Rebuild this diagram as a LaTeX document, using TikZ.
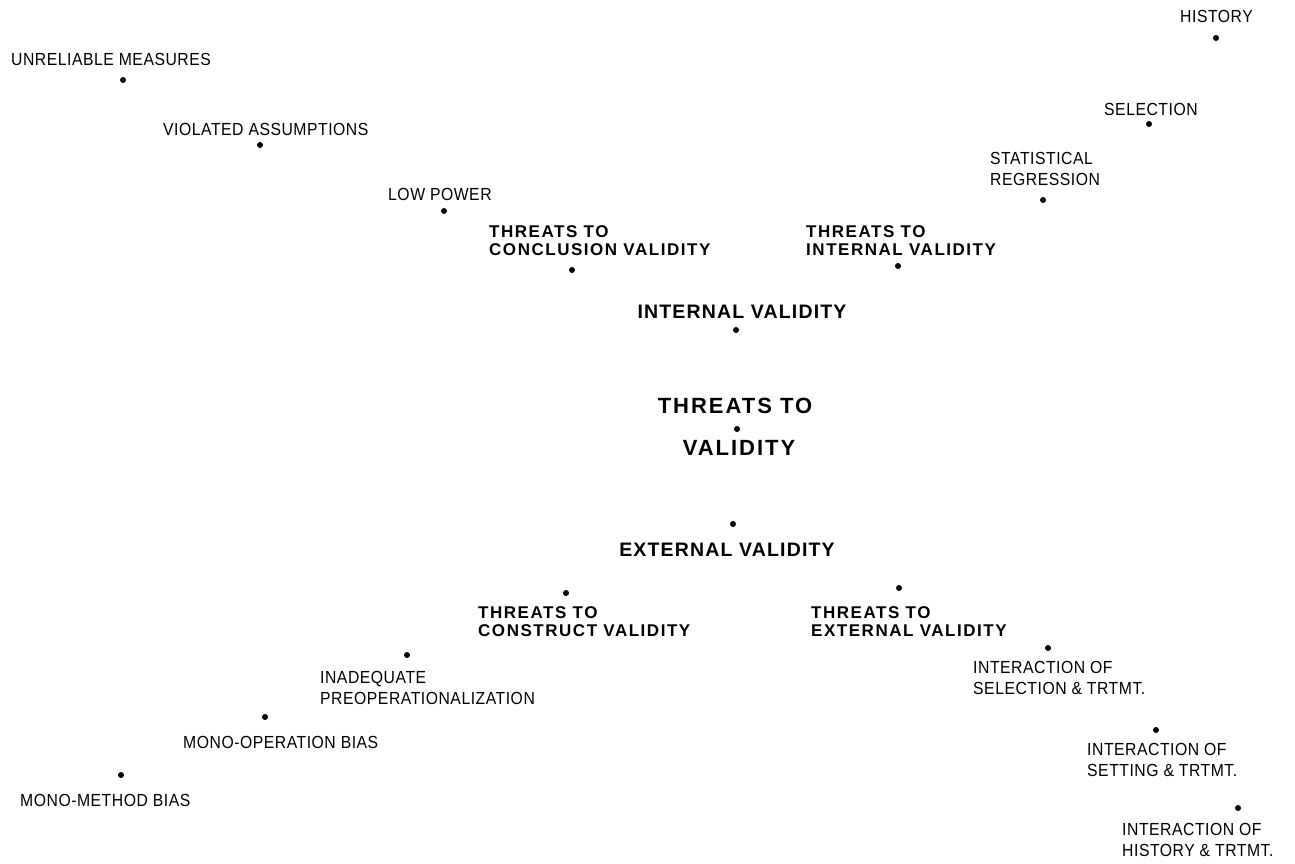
\documentclass[tikz,border=0pt]{standalone}
\usepackage{fontspec}
\setmainfont{Liberation Sans}
\newfontfamily\smallfam[LetterSpace=3,FakeStretch=0.9]{Liberation Sans}
\newfontfamily\boldfam[LetterSpace=9]{Liberation Sans Bold}
\newfontfamily\midfam[LetterSpace=6]{Liberation Sans Bold}
\begin{document}
\begin{tikzpicture}[x=1pt,y=-1pt,
  dot/.style={circle,fill=black,inner sep=0pt,minimum size=6pt},
  lbl/.style={inner sep=0pt,anchor=west,font=\smallfam\fontsize{17.5}{21}\selectfont},
  mllbl/.style={inner sep=0pt,anchor=north west,align=left,font=\smallfam\fontsize{17.5}{21}\selectfont},
  blbl/.style={inner sep=0pt,anchor=north west,align=left,font=\boldfam\fontsize{17}{18}\selectfont},
  mlbl/.style={inner sep=0pt,anchor=center,font=\midfam\fontsize{19.5}{22}\selectfont},
  biglbl/.style={inner sep=0pt,anchor=center,font=\boldfam\fontsize{22}{26}\selectfont}]
\useasboundingbox[fill=white] (0,0) rectangle (1295,863);

% top left branch
\node[lbl] (unrel) at (11,59) {UNRELIABLE MEASURES};
\node[dot] (dunrel) at (123,80) {};
\node[lbl] (viol) at (163,129) {VIOLATED ASSUMPTIONS};
\node[dot] (dviol) at (260,145) {};
\node[lbl] (lowp) at (388,194) {LOW POWER};
\node[dot] (dlowp) at (444,211) {};
\node[blbl] (concl) at (489,225) {THREATS TO\\CONCLUSION VALIDITY};
\node[dot] (dconcl) at (572,270) {};

% top right branch
\node[lbl] (hist) at (1180,16.5) {HISTORY};
\node[dot] (dhist) at (1216,38) {};
\node[lbl] (sel) at (1104,109.5) {SELECTION};
\node[dot] (dsel) at (1149,124) {};
\node[mllbl] (stat) at (990,152) {STATISTICAL\\REGRESSION};
\node[dot] (dstat) at (1043,200) {};
\node[blbl] (intthr) at (806,225) {THREATS TO\\INTERNAL VALIDITY};
\node[dot] (dintthr) at (898,266) {};

% centre
\node[mlbl] (intval) at (742,312) {INTERNAL VALIDITY};
\node[dot] (dintval) at (736,330) {};
\node[biglbl] (thr) at (735,406) {THREATS TO};
\node[dot] (dthr) at (737,429) {};
\node[biglbl] (val) at (739,448) {VALIDITY};
\node[dot] (dextval) at (733,524) {};
\node[mlbl] (extval) at (727,550) {EXTERNAL VALIDITY};

% bottom left branch
\node[dot] (dcons) at (566,593) {};
\node[blbl] (cons) at (478,606) {THREATS TO\\CONSTRUCT VALIDITY};
\node[dot] (dinad) at (407,655) {};
\node[mllbl] (inad) at (320,671) {INADEQUATE\\PREOPERATIONALIZATION};
\node[dot] (dmonoop) at (265,717) {};
\node[lbl] (monoop) at (183,742) {MONO-OPERATION BIAS};
\node[dot] (dmonome) at (121,775) {};
\node[lbl] (monome) at (20,800) {MONO-METHOD BIAS};

% bottom right branch
\node[dot] (dext) at (899,588) {};
\node[blbl] (ext) at (811,606) {THREATS TO\\EXTERNAL VALIDITY};
\node[dot] (dissel) at (1048,648) {};
\node[mllbl] (issel) at (973,661) {INTERACTION OF\\SELECTION \& TRTMT.};
\node[dot] (disset) at (1156,730) {};
\node[mllbl] (isset) at (1087,743) {INTERACTION OF\\SETTING \& TRTMT.};
\node[dot] (dishist) at (1238,808) {};
\node[mllbl] (ishist) at (1122,823) {INTERACTION OF\\HISTORY \& TRTMT.};
\end{tikzpicture}
\end{document}
